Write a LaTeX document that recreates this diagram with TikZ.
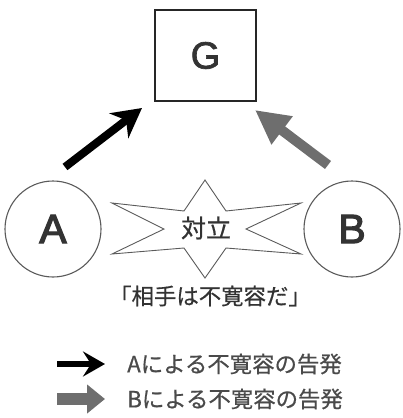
\documentclass[tikz,border=0pt]{standalone}
\usepackage{fontspec}
\setmainfont{Noto Sans CJK JP}[FakeBold=0.6]
\newfontfamily\latf{Liberation Sans}[FakeBold=1.8]
\newfontfamily\latb{Liberation Sans}[FakeBold=3]
\usetikzlibrary{arrows.meta}
\definecolor{txt}{HTML}{333333}
\definecolor{legtxt}{HTML}{4A4A4A}
\definecolor{garrow}{HTML}{6E6E6E}
\definecolor{lgray}{HTML}{5A5A5A}
\tikzset{
  party/.style={circle,draw=lgray,line width=1.1pt,minimum size=96pt,inner sep=0pt,text=txt,font=\latb\fontsize{41}{41}\selectfont},
  goalbox/.style={draw=black!85,line width=1.4pt,minimum width=101pt,minimum height=91pt,inner sep=0pt,text=txt,font=\latf\fontsize{38}{38}\selectfont},
  blackarr/.style={line width=8pt,black,-{Stealth[length=29pt,width=31pt,inset=9pt]}},
  grayarr/.style={line width=10pt,garrow,-{Triangle[length=34pt,width=33pt]}},
  legblack/.style={line width=6pt,black,-{Stealth[length=22pt,width=25pt,inset=8pt]}},
  leggray/.style={line width=12pt,garrow,-{Triangle[length=18pt,width=28pt]}},
  legtext/.style={anchor=west,inner sep=0pt,text=legtxt,font=\fontsize{22.4}{23}\selectfont},
}
\begin{document}
\begin{tikzpicture}[x=1pt,y=-1pt]
\useasboundingbox (0,0) rectangle (402,418);
\node[goalbox] (G) at (205.5,55.5) {G};
\node[party] (A) at (53,229) {A};
\node[party] (B) at (352,229) {B};
% star
\draw[draw=lgray,line width=0.9pt,line join=miter]
  (205,180) -- (226,211) -- (301,203) -- (246,229) -- (301,254) -- (226,248)
  -- (205,278) -- (184,248) -- (112,254) -- (164,229) -- (112,203) -- (184,211) -- cycle;
\node[text=txt,inner sep=0pt,font=\fontsize{25}{25}\selectfont] (conf) at (206,228) {対立};
\node[text=txt,inner sep=0pt,font=\fontsize{22.4}{23}\selectfont] (claim) at (210,296) {「相手は不寛容だ」};
% arrows to G
\coordinate (aS) at (65,167);
\coordinate (bS) at (328,165);
\coordinate (gA) at (142,108);
\coordinate (gB) at (255,110);
\draw[blackarr] (aS) -- (gA);
\draw[grayarr] (bS) -- (gB);
% legend
\coordinate (l1s) at (57,364);
\coordinate (l1e) at (105,364);
\coordinate (l2s) at (57,399);
\coordinate (l2e) at (105,399);
\draw[legblack] (l1s) -- (l1e);
\draw[leggray] (l2s) -- (l2e);
\node[legtext] (la) at (127,364) {Aによる不寛容の告発};
\node[legtext] (lb) at (127,399) {Bによる不寛容の告発};
\end{tikzpicture}
\end{document}
